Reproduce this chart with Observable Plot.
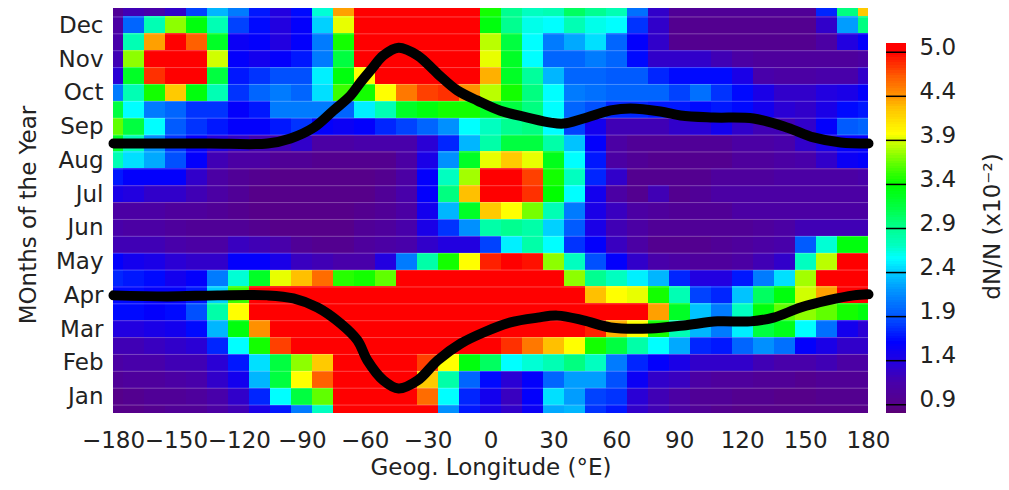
<!DOCTYPE html>
<html><head><meta charset="utf-8">
<script src="https://cdn.jsdelivr.net/npm/d3@7"></script>
<script src="https://cdn.jsdelivr.net/npm/@observablehq/plot@0.6"></script>
<style>
body{margin:0;background:#fff;}
#wrap{position:relative;width:1009px;height:490px;overflow:hidden;background:#fff;}
#wrap svg{position:absolute;top:0;}
</style></head><body><div id="wrap"></div>
<script>
// ---- categories ----
const longitudes = [-180,-170,-160,-150,-140,-130,-120,-110,-100,-90,-80,-70,-60,-50,-40,-30,-20,-10,0,10,20,30,40,50,60,70,80,90,100,110,120,130,140,150,160,170,180];
const monthRows = [12.5,12,11.5,11,10.5,10,9.5,9,8.5,8,7.5,7,6.5,6,5.5,5,4.5,4,3.5,3,2.5,2,1.5,1,0.5];
const monthTicks = [1,2,3,4,5,6,7,8,9,10,11,12];
const monthNames = ["Jan","Feb","Mar","Apr","May","Jun","Jul","Aug","Sep","Oct","Nov","Dec"];
const lonTicks = [-180,-150,-120,-90,-60,-30,0,30,60,90,120,150,180];

// ---- dN/N (x10^-2) per row (top row first), columns = longitudes ----
const dN_12_5 = [1.0,1.2,1.15,1.3,1.85,2.35,2.1,1.7,1.4,1.65,2.7,4.45,5,5,5,5,5,5,3.5,2.95,2.75,2.8,3.1,2.95,2.8,2.05,1.3,1.0,1.0,1.0,1.0,1.0,1.0,1.0,1.75,3.0,4.3];
const dN_12_0 = [1.1,2.0,2.8,3.8,3.4,2.8,1.85,1.65,1.4,1.6,2.45,4.0,5,5,5,5,5,5,3.4,2.95,2.65,2.6,2.8,2.65,2.6,1.8,1.3,0.95,0.95,0.95,0.95,0.95,0.95,0.95,1.3,2.25,3.0];
const dN_11_5 = [1.15,2.8,4.45,5,4.7,3.3,1.55,1.6,1.4,1.6,2.1,3.5,5,5,5,5,5,5,3.9,3.2,2.6,2.1,2.3,2.5,2.0,1.6,1.3,0.95,0.95,0.95,0.95,0.95,0.95,0.95,1.1,1.4,1.6];
const dN_11_0 = [1.2,3.8,5,5,5,3.95,1.6,1.5,1.6,1.7,2.1,3.2,5,5,5,5,5,5,4.0,3.3,2.6,2.0,2.0,2.1,2.0,1.65,1.3,1.3,1.3,1.2,1.1,1.05,1.05,1.05,1.05,1.05,1.1];
const dN_10_5 = [1.35,3.3,4.85,5,5,3.2,1.7,1.8,1.9,1.9,2.55,3.4,4.05,5,5,5,5,5,4.4,3.3,2.9,2.35,2.0,2.0,1.95,1.95,1.75,1.65,1.65,1.65,1.45,1.15,1.1,1.1,1.15,1.15,1.3];
const dN_10_0 = [2.1,2.8,3.5,4.3,3.4,2.8,1.8,2.0,2.1,2.0,2.5,3.6,3.5,4.05,4.6,4.8,4.85,4.5,3.9,3.5,3.0,2.6,2.1,2.05,2.0,2.0,2.0,1.85,2.05,1.8,1.65,1.45,1.3,1.3,1.4,1.45,1.6];
const dN_9_5 = [3.2,2.6,2.1,2.0,1.8,1.8,1.6,1.7,2.1,2.1,2.1,2.0,2.55,2.8,3.3,3.4,3.5,3.5,3.3,3.2,3.0,2.6,2.0,1.9,1.75,1.75,1.7,1.7,1.65,1.7,1.65,1.5,1.35,1.3,1.45,1.65,1.7];
const dN_9_0 = [3.7,3.2,2.6,1.95,1.8,1.7,1.6,1.6,1.7,1.8,1.6,1.55,1.6,1.75,1.85,2.0,2.2,2.6,2.75,2.95,3.0,2.6,1.85,1.5,1.2,1.2,1.2,1.3,1.35,1.5,1.3,1.2,1.2,1.3,1.6,1.95,2.0];
const dN_8_5 = [3.3,2.8,2.2,1.8,1.6,1.4,1.3,1.2,1.2,1.3,1.1,1.1,1.15,1.15,1.15,1.35,1.75,2.35,2.85,3.2,3.2,2.85,2.4,1.6,1.1,1.0,1.0,1.0,1.0,1.0,1.1,1.1,1.15,1.3,1.45,1.6,1.6];
const dN_8_0 = [2.8,2.5,2.3,1.9,1.6,1.2,1.1,1.1,1.0,1.0,0.95,0.95,0.95,0.95,1.1,1.45,2.2,3.3,4.0,4.3,4.0,3.35,2.6,1.7,1.1,1.0,0.95,0.95,0.95,0.95,1.05,1.05,1.1,1.15,1.3,1.55,1.6];
const dN_7_5 = [1.7,1.6,1.6,1.6,1.3,1.1,1.0,0.95,0.9,0.9,0.9,0.9,0.9,0.95,1.1,1.6,2.75,3.85,5,5,4.8,3.5,2.75,1.75,1.3,0.95,0.95,0.95,0.95,1.05,1.05,1.05,1.1,1.1,1.1,1.1,1.15];
const dN_7_0 = [1.45,1.4,1.3,1.3,1.2,1.1,1.0,0.9,0.9,0.9,0.9,0.9,0.9,1.0,1.15,1.6,3.0,4.35,5,5,4.85,3.45,2.6,1.5,1.1,0.95,1.2,0.95,1.0,1.1,1.1,1.1,1.1,1.1,1.1,1.1,1.1];
const dN_6_5 = [1.1,1.1,1.1,1.05,1.05,1.0,0.95,0.9,0.9,0.9,0.9,0.9,0.95,1.0,1.1,1.5,2.35,3.3,4.3,4.05,3.75,2.8,2.1,1.45,1.25,1.1,1.05,1.0,1.0,1.0,1.1,1.1,1.1,1.1,1.1,1.1,1.1];
const dN_6_0 = [1.15,1.1,1.1,1.05,1.0,1.0,1.0,0.95,0.9,0.9,0.9,0.9,1.0,1.05,1.15,1.45,1.8,2.2,2.85,2.95,2.85,2.45,1.95,1.45,1.2,1.1,1.0,1.0,1.0,1.0,1.0,1.05,1.1,1.2,1.2,1.2,1.2];
const dN_5_5 = [1.2,1.2,1.2,1.15,1.1,1.1,1.25,1.2,1.15,1.0,0.95,0.95,1.05,1.1,1.15,1.3,1.4,1.4,1.85,2.55,2.85,2.6,1.8,1.6,1.25,1.1,0.95,0.95,0.95,1.0,1.05,1.1,1.15,1.95,2.7,3.4,3.4];
const dN_5_0 = [1.6,1.5,1.45,1.35,1.3,1.3,1.6,1.6,1.45,1.25,1.2,1.15,1.15,1.4,2.1,2.85,3.5,4.05,4.9,5,4.95,3.8,2.75,1.9,1.6,1.3,1.15,1.1,1.05,1.05,1.1,1.2,1.3,2.75,3.9,5,5];
const dN_4_5 = [1.75,1.7,1.65,1.5,1.6,2.1,2.7,3.3,4.0,4.35,4.65,3.55,3.5,3.7,5,5,5,5,5,5,5,5,3.8,2.95,2.75,2.55,2.35,1.75,1.4,1.4,1.7,2.1,2.5,3.85,5,5,5];
const dN_4_0 = [1.65,1.65,1.6,1.6,1.7,2.45,3.6,5,5,5,5,5,5,5,5,5,5,5,5,5,5,5,5,4.35,4.05,4.0,3.5,2.8,1.85,1.75,2.4,3.1,3.4,3.95,4.45,5,5];
const dN_3_5 = [1.65,1.65,1.6,1.65,1.9,2.85,4.05,5,5,5,5,5,5,5,5,5,5,5,5,5,5,5,5,5,5,5,4.45,3.3,2.4,2.1,2.75,3.4,3.7,3.8,3.7,3.5,3.4];
const dN_3_0 = [1.4,1.4,1.45,1.5,1.65,2.35,3.4,4.5,5,5,5,5,5,5,5,5,5,5,5,5,5,5,5,4.9,4.4,4.05,3.5,2.8,2.35,2.1,2.55,3.2,3.35,2.6,2.05,1.5,1.35];
const dN_2_5 = [1.2,1.2,1.25,1.3,1.35,1.75,2.6,3.5,4.8,5,5,5,5,5,5,5,5,5,5,4.85,4.6,4.35,4.05,3.5,3.2,2.85,2.6,2.3,1.75,1.7,2.0,2.2,2.05,1.6,1.45,1.3,1.3];
const dN_2_0 = [1.1,1.15,1.15,1.2,1.2,1.35,1.7,2.5,3.2,3.8,4.3,5,5,5,5,4.8,4.05,3.4,3.1,2.6,2.7,2.8,3.0,2.75,2.1,1.75,1.6,1.45,1.3,1.3,1.3,1.2,1.15,1.15,1.2,1.1,1.1];
const dN_1_5 = [1.0,1.05,1.05,1.1,1.15,1.3,1.5,2.35,3.2,4.05,4.7,5,5,5,5,4.3,2.85,2.0,1.65,1.35,1.6,2.0,2.25,2.25,1.9,1.55,1.3,1.25,1.1,1.05,1.05,1.0,1.0,0.95,1.0,1.0,1.0];
const dN_1_0 = [0.9,0.95,1.0,1.0,1.05,1.15,1.3,1.75,2.6,3.2,3.7,5,5,5,5,4.65,2.6,1.75,1.5,1.25,1.6,2.5,2.25,1.85,1.8,1.35,1.2,1.1,1.0,1.0,0.95,0.95,0.9,0.9,0.95,0.95,0.95];
const dN_0_5 = [0.9,0.9,0.95,1.0,1.0,1.1,1.2,1.45,1.7,2.1,2.75,5,5,5,5,5,2.2,1.7,1.45,1.3,1.55,2.3,2.35,1.8,1.7,1.3,1.2,1.1,1.0,0.95,0.9,0.9,0.9,0.9,0.9,0.9,0.9];

// ---- black curves (longitude, month) ----
const upperLon = [-180,-154.3,-133.7,-106.6,-95.6,-84.6,-75.1,-67.0,-62.2,-57.5,-51.3,-44.1,-35.0,-25.5,-16.0,-6.4,4.5,17.4,28.4,34.6,44.1,57.0,66.5,80.8,90.4,106.1,125.2,141.4,153.8,166.7,180];
const upperMonth = [8.50,8.50,8.50,8.50,8.65,8.97,9.48,9.92,10.31,10.66,11.11,11.34,11.11,10.57,10.07,9.77,9.47,9.27,9.12,9.09,9.24,9.48,9.54,9.45,9.33,9.27,9.24,8.97,8.68,8.53,8.50];
const lowerLon = [-180,-154.3,-130.4,-106.6,-94.2,-82.7,-71.8,-63.7,-58.9,-51.3,-44.1,-35.0,-25.5,-14.5,-3.6,9.3,22.2,31.7,44.1,57.0,76.1,91.8,108.0,123.7,134.7,147.6,160.5,172.9,180];
const lowerMonth = [4.00,3.97,4.00,4.00,3.91,3.64,3.17,2.67,2.07,1.48,1.24,1.48,2.07,2.57,2.90,3.20,3.34,3.40,3.26,3.05,3.02,3.11,3.23,3.23,3.34,3.64,3.85,4.00,4.03];

// ---- colour bar ----
const colorStops = [0.8,0.9,1.15,1.4,1.62,1.9,2.2,2.42,2.6,2.75,2.95,3.2,3.45,3.7,3.95,4.05,4.35,4.5,4.7,4.85,5.0,5.2];
const colorHexes = ["#5a0074","#56008a","#4800aa","#2200e0","#0000ff","#0050ff","#0090ff","#00c8ff","#00ffff","#00ffc0","#00ff90","#00ff40","#00ff00","#60ff00","#d0ff00","#ffff00","#ffc000","#ff9000","#ff6000","#ff3000","#ff0000","#ff0000"];
const cbTickValues = [0.9,1.4125,1.925,2.4375,2.95,3.4625,3.975,4.4875,5.0];
const cbTickLabels = ["0.9","1.4","1.9","2.4","2.9","3.4","3.9","4.4","5.0"];

// ---- build tables ----
const rowArrays = [dN_12_5,dN_12_0,dN_11_5,dN_11_0,dN_10_5,dN_10_0,dN_9_5,dN_9_0,dN_8_5,dN_8_0,dN_7_5,dN_7_0,dN_6_5,dN_6_0,dN_5_5,dN_5_0,dN_4_5,dN_4_0,dN_3_5,dN_3_0,dN_2_5,dN_2_0,dN_1_5,dN_1_0,dN_0_5];
const cells = [];
rowArrays.forEach((row, r) => row.forEach((v, c) => cells.push({lon: longitudes[c], m: monthRows[r], v})));
const rowEdges = monthRows.slice(1).map((m, i) => (m + monthRows[i]) / 2);
const upper = upperLon.map((x, i) => ({lon: x, m: upperMonth[i]}));
const lower = lowerLon.map((x, i) => ({lon: x, m: lowerMonth[i]}));
const colorScale = {type: "linear", domain: colorStops, range: colorHexes, interpolate: "rgb", clamp: true};
const FONT = "DejaVu Sans";
const FS = 23;

const main = Plot.plot({
  width: 1009, height: 490,
  marginLeft: 113, marginRight: 141, marginTop: 8, marginBottom: 77,
  style: {fontFamily: FONT, fontSize: FS + "px", color: "#222", background: "transparent"},
  x: {domain: [-180, 180]},
  y: {domain: [0.5, 12.5]},
  color: colorScale,
  marks: [
    Plot.rect(cells, {
      x1: d => Math.max(-180, d.lon - 5), x2: d => Math.min(180, d.lon + 5),
      y1: d => Math.max(0.5, d.m - 0.25), y2: d => Math.min(12.5, d.m + 0.25),
      fill: "v", shapeRendering: "crispEdges"
    }),
    Plot.ruleY(rowEdges, {stroke: "white", strokeOpacity: 0.28, strokeWidth: 1}),
    Plot.line(upper, {x: "lon", y: "m", stroke: "black", strokeWidth: 10, curve: "catmull-rom"}),
    Plot.line(lower, {x: "lon", y: "m", stroke: "black", strokeWidth: 10, curve: "catmull-rom"}),
    Plot.axisX({ticks: lonTicks, tickSize: 0, tickPadding: 18, label: null, fontSize: FS}),
    Plot.axisY({ticks: monthTicks, tickFormat: d => monthNames[d - 1], tickSize: 0, tickPadding: 10, label: null, fontSize: FS}),
    Plot.text(["Geog. Longitude (°E)"], {frameAnchor: "bottom", dy: 54, lineAnchor: "middle", textAnchor: "middle", fontSize: FS, fill: "#222"}),
    Plot.text(["MOnths of the Year"], {frameAnchor: "left", rotate: -90, dx: -85, dy: 4, lineAnchor: "middle", textAnchor: "middle", fontSize: FS, fill: "#222"})
  ]
});

const bandEdges = d3.range(0.795, 5.105, 0.03);
const cb = Plot.plot({
  width: 139, height: 490,
  marginLeft: 16, marginRight: 103, marginTop: 42.7, marginBottom: 76.7,
  style: {fontFamily: FONT, fontSize: FS + "px", color: "#222", background: "transparent"},
  x: {domain: [0, 1], axis: null},
  y: {domain: [0.795, 5.105], axis: null},
  color: colorScale,
  marks: [
    Plot.rect(bandEdges, {x1: 0, x2: 1, y1: d => d, y2: d => Math.min(5.105, d + 0.03), fill: d => d + 0.015, shapeRendering: "crispEdges"}),
    Plot.ruleY(cbTickValues, {x1: 0, x2: 1, stroke: "black", strokeWidth: 1.5}),
    Plot.text(cbTickValues, {x: 1, y: d => d, text: (d, i) => cbTickLabels[i], textAnchor: "start", dx: 13, dy: -5, fontSize: FS, fill: "#222"}),
    Plot.text(["dN/N (x10⁻²)"], {frameAnchor: "right", rotate: -90, dx: 86, dy: -2, lineAnchor: "middle", textAnchor: "middle", fontSize: FS, fill: "#222"})
  ]
});
cb.style.left = "870px";
main.style.left = "0px";
const wrap = document.getElementById("wrap");
wrap.appendChild(main);
wrap.appendChild(cb);
</script></body></html>
